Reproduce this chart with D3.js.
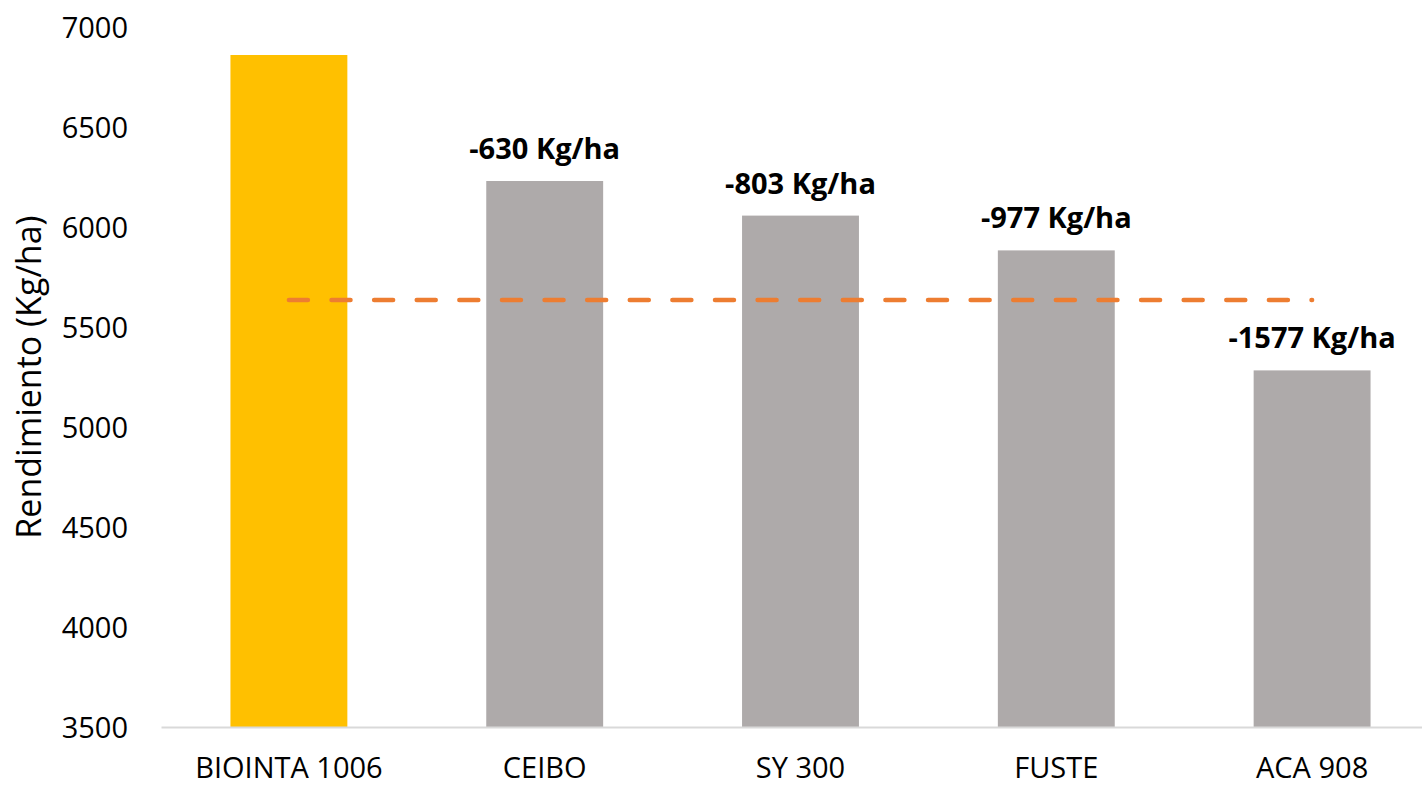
<!DOCTYPE html>
<html>
<head>
<meta charset="utf-8">
<script src="https://cdn.jsdelivr.net/npm/d3@7"></script>
<style>
  html, body { margin: 0; padding: 0; background: #fff; }
  svg { display: block; }
  text { font-family: "Open Sans", "Lato", sans-serif; fill: #000; }
</style>
</head>
<body>
<svg id="chart" width="1422" height="785"></svg>
<script>
const categories = ["BIOINTA 1006", "CEIBO", "SY 300", "FUSTE", "ACA 908"];
const yields = [6860, 6230, 6057, 5883, 5283];
const barColors = ["#FFC000", "#AEAAAA", "#AEAAAA", "#AEAAAA", "#AEAAAA"];
const diffLabels = ["", "-630 Kg/ha", "-803 Kg/ha", "-977 Kg/ha", "-1577 Kg/ha"];
const referenceLevel = 5635;
const yTicks = [3500, 4000, 4500, 5000, 5500, 6000, 6500, 7000];
const yTitle = "Rendimiento (Kg/ha)";

const svg = d3.select("#chart");

const x = d3.scaleBand()
  .domain(categories)
  .range([161, 1440])
  .paddingInner(0.543)
  .paddingOuter(0.2715);

const y = d3.scaleLinear().domain([3500, 7000]).range([727, 27]);

// Y axis (no line, just labels)
const yAxis = svg.append("g")
  .attr("transform", "translate(161,0)")
  .call(d3.axisLeft(y).tickValues(yTicks).tickSize(0).tickPadding(33).tickFormat(d3.format("d")));
yAxis.select(".domain").remove();
yAxis.selectAll("text").style("font-size", "29px").attr("dy", "0.35em").attr("fill", "#000");

// Bars
svg.append("g").selectAll("rect")
  .data(categories)
  .join("rect")
  .attr("x", d => x(d))
  .attr("width", x.bandwidth())
  .attr("y", (d, i) => y(yields[i]))
  .attr("height", (d, i) => y(3500) - y(yields[i]))
  .attr("fill", (d, i) => barColors[i]);

// X axis
const xAxis = svg.append("g")
  .attr("transform", `translate(0,${y(3500)})`)
  .call(d3.axisBottom(x).tickSize(0).tickPadding(30));
xAxis.select(".domain").attr("stroke", "#D9D9D9").attr("stroke-width", 2);
xAxis.selectAll("text").style("font-size", "29px").attr("fill", "#000");

// Reference dashed line
const line = d3.line().x(d => d[0]).y(d => d[1]);
const firstC = x(categories[0]) + x.bandwidth() / 2;
const lastC = x(categories[categories.length - 1]) + x.bandwidth() / 2;
const period = (lastC - firstC - 0.6) / 24;
svg.append("path")
  .attr("d", line([[firstC, y(referenceLevel)], [lastC, y(referenceLevel)]]))
  .attr("stroke", "#ED7D31")
  .attr("stroke-width", 4.5)
  .attr("stroke-linecap", "round")
  .attr("stroke-dasharray", `19 ${period - 19}`)
  .attr("fill", "none");

// Data labels
svg.append("g").selectAll("text")
  .data(categories)
  .join("text")
  .attr("x", d => x(d) + x.bandwidth() / 2)
  .attr("y", (d, i) => y(yields[i]) - 22)
  .attr("text-anchor", "middle")
  .style("font-size", "29px")
  .style("font-weight", "bold")
  .text((d, i) => diffLabels[i]);

// Y title
svg.append("text")
  .attr("transform", `translate(41,${(y(3500) + y(7000)) / 2}) rotate(-90)`)
  .attr("text-anchor", "middle")
  .style("font-size", "34px")
  .text(yTitle);
</script>
</body>
</html>
